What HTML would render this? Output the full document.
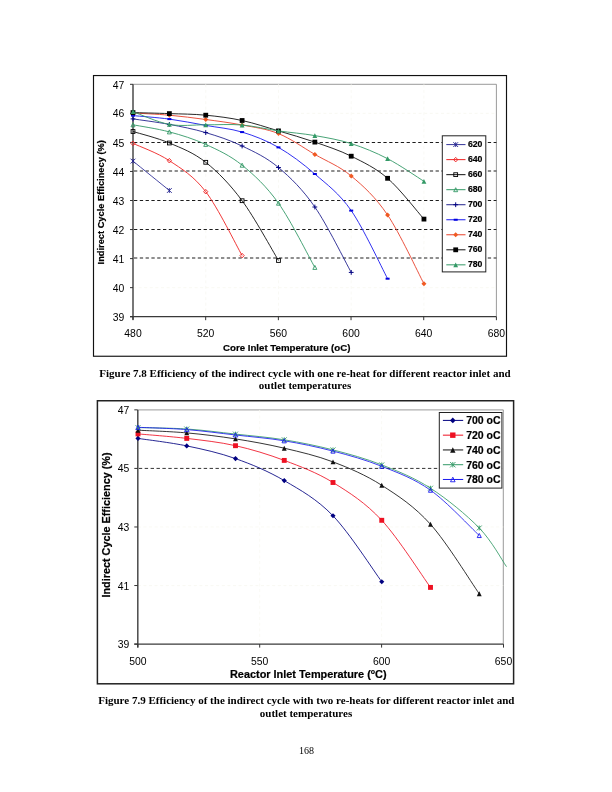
<!DOCTYPE html>
<html><head><meta charset="utf-8"><title>Page 168</title>
<style>html,body{margin:0;padding:0;background:#fff}body{width:612px;height:792px;position:relative;overflow:hidden}</style></head>
<body>
<svg width="612" height="792" viewBox="0 0 612 792" style="position:absolute;left:0;top:0">
<rect width="612" height="792" fill="#fff"/>
<rect x="93.50" y="75.55" width="413.00" height="280.70" fill="#fff" stroke="#111" stroke-width="1.15"/>
<path d="M133.0 84.3 H496.4 V316.7" fill="none" stroke="#808080" stroke-width="0.8"/>
<line x1="133.0" y1="113.35" x2="496.4" y2="113.35" stroke="#f7f7f0" stroke-width="0.8" stroke-dasharray="3 2.6"/>
<line x1="133.0" y1="287.65" x2="496.4" y2="287.65" stroke="#f7f7f0" stroke-width="0.8" stroke-dasharray="3 2.6"/>
<line x1="205.74" y1="84.3" x2="205.74" y2="316.7" stroke="#f8f8f2" stroke-width="0.8" stroke-dasharray="3 2.6"/>
<line x1="278.48" y1="84.3" x2="278.48" y2="316.7" stroke="#f8f8f2" stroke-width="0.8" stroke-dasharray="3 2.6"/>
<line x1="351.22" y1="84.3" x2="351.22" y2="316.7" stroke="#f8f8f2" stroke-width="0.8" stroke-dasharray="3 2.6"/>
<line x1="423.96" y1="84.3" x2="423.96" y2="316.7" stroke="#f8f8f2" stroke-width="0.8" stroke-dasharray="3 2.6"/>
<line x1="134.0" y1="142.50" x2="496.4" y2="142.50" stroke="#111" stroke-width="0.95" stroke-dasharray="3.3 2.5"/>
<line x1="134.0" y1="171.00" x2="496.4" y2="171.00" stroke="#111" stroke-width="0.95" stroke-dasharray="3.3 2.5"/>
<line x1="134.0" y1="200.50" x2="496.4" y2="200.50" stroke="#111" stroke-width="0.95" stroke-dasharray="3.3 2.5"/>
<line x1="134.0" y1="229.50" x2="496.4" y2="229.50" stroke="#111" stroke-width="0.95" stroke-dasharray="3.3 2.5"/>
<line x1="134.0" y1="258.00" x2="496.4" y2="258.00" stroke="#111" stroke-width="0.95" stroke-dasharray="3.3 2.5"/>
<line x1="133.0" y1="84.3" x2="133.0" y2="319.7" stroke="#4a4a4a" stroke-width="1.5"/>
<line x1="130.0" y1="316.7" x2="496.4" y2="316.7" stroke="#3a3a3a" stroke-width="1.2"/>
<line x1="130.0" y1="316.70" x2="133.0" y2="316.70" stroke="#333" stroke-width="1"/>
<text x="124.2" y="321.30" text-anchor="end" font-size="10.4" font-family="Liberation Sans, Arial, sans-serif" fill="#000">39</text>
<line x1="130.0" y1="287.65" x2="133.0" y2="287.65" stroke="#333" stroke-width="1"/>
<text x="124.2" y="292.25" text-anchor="end" font-size="10.4" font-family="Liberation Sans, Arial, sans-serif" fill="#000">40</text>
<line x1="130.0" y1="258.60" x2="133.0" y2="258.60" stroke="#333" stroke-width="1"/>
<text x="124.2" y="263.20" text-anchor="end" font-size="10.4" font-family="Liberation Sans, Arial, sans-serif" fill="#000">41</text>
<line x1="130.0" y1="229.55" x2="133.0" y2="229.55" stroke="#333" stroke-width="1"/>
<text x="124.2" y="234.15" text-anchor="end" font-size="10.4" font-family="Liberation Sans, Arial, sans-serif" fill="#000">42</text>
<line x1="130.0" y1="200.50" x2="133.0" y2="200.50" stroke="#333" stroke-width="1"/>
<text x="124.2" y="205.10" text-anchor="end" font-size="10.4" font-family="Liberation Sans, Arial, sans-serif" fill="#000">43</text>
<line x1="130.0" y1="171.45" x2="133.0" y2="171.45" stroke="#333" stroke-width="1"/>
<text x="124.2" y="176.05" text-anchor="end" font-size="10.4" font-family="Liberation Sans, Arial, sans-serif" fill="#000">44</text>
<line x1="130.0" y1="142.40" x2="133.0" y2="142.40" stroke="#333" stroke-width="1"/>
<text x="124.2" y="147.00" text-anchor="end" font-size="10.4" font-family="Liberation Sans, Arial, sans-serif" fill="#000">45</text>
<line x1="130.0" y1="113.35" x2="133.0" y2="113.35" stroke="#333" stroke-width="1"/>
<text x="124.2" y="116.85" text-anchor="end" font-size="10.4" font-family="Liberation Sans, Arial, sans-serif" fill="#000">46</text>
<line x1="130.0" y1="84.30" x2="133.0" y2="84.30" stroke="#333" stroke-width="1"/>
<text x="124.2" y="88.90" text-anchor="end" font-size="10.4" font-family="Liberation Sans, Arial, sans-serif" fill="#000">47</text>
<line x1="133.00" y1="316.7" x2="133.00" y2="320.2" stroke="#333" stroke-width="1"/>
<text x="133.00" y="337.4" text-anchor="middle" font-size="10.4" font-family="Liberation Sans, Arial, sans-serif" fill="#000">480</text>
<line x1="205.68" y1="316.7" x2="205.68" y2="320.2" stroke="#333" stroke-width="1"/>
<text x="205.68" y="337.4" text-anchor="middle" font-size="10.4" font-family="Liberation Sans, Arial, sans-serif" fill="#000">520</text>
<line x1="278.36" y1="316.7" x2="278.36" y2="320.2" stroke="#333" stroke-width="1"/>
<text x="278.36" y="337.4" text-anchor="middle" font-size="10.4" font-family="Liberation Sans, Arial, sans-serif" fill="#000">560</text>
<line x1="351.04" y1="316.7" x2="351.04" y2="320.2" stroke="#333" stroke-width="1"/>
<text x="351.04" y="337.4" text-anchor="middle" font-size="10.4" font-family="Liberation Sans, Arial, sans-serif" fill="#000">600</text>
<line x1="423.72" y1="316.7" x2="423.72" y2="320.2" stroke="#333" stroke-width="1"/>
<text x="423.72" y="337.4" text-anchor="middle" font-size="10.4" font-family="Liberation Sans, Arial, sans-serif" fill="#000">640</text>
<line x1="496.40" y1="316.7" x2="496.40" y2="320.2" stroke="#333" stroke-width="1"/>
<text x="496.40" y="337.4" text-anchor="middle" font-size="10.4" font-family="Liberation Sans, Arial, sans-serif" fill="#000">680</text>
<text x="286.7" y="351.4" text-anchor="middle" font-size="9.5" font-weight="bold" stroke="#000" stroke-width="0.2" textLength="127.4" lengthAdjust="spacingAndGlyphs" font-family="Liberation Sans, Arial, sans-serif" fill="#000">Core Inlet Temperature (oC)</text>
<text transform="translate(104.3 202.3) rotate(-90)" text-anchor="middle" font-size="9.3" font-weight="bold" stroke="#000" stroke-width="0.2" textLength="124.2" lengthAdjust="spacingAndGlyphs" font-family="Liberation Sans, Arial, sans-serif" fill="#000">Indirect Cycle Efficinecy (%)</text>
<path d="M133.00 161.10 C139.06 166.00 163.31 185.60 169.37 190.50" fill="none" stroke="#333399" stroke-width="0.9"/>
<path d="M130.60 158.70 L135.40 163.50 M130.60 163.50 L135.40 158.70 M133.00 158.70 L133.00 163.50" stroke="#23238e" stroke-width="0.9" fill="none"/>
<path d="M166.97 188.10 L171.77 192.90 M166.97 192.90 L171.77 188.10 M169.37 188.10 L169.37 192.90" stroke="#23238e" stroke-width="0.9" fill="none"/>
<path d="M133.00 143.40 C139.06 146.28 157.25 152.65 169.37 160.70 C181.49 168.75 193.62 175.88 205.74 191.70 C217.86 207.52 236.05 244.95 242.11 255.60" fill="none" stroke="#ee2222" stroke-width="0.9"/>
<path d="M133.00 141.10 L135.10 143.40 L133.00 145.70 L130.90 143.40Z" fill="none" stroke="#ee2222" stroke-width="0.9"/>
<path d="M169.37 158.40 L171.47 160.70 L169.37 163.00 L167.27 160.70Z" fill="none" stroke="#ee2222" stroke-width="0.9"/>
<path d="M205.74 189.40 L207.84 191.70 L205.74 194.00 L203.64 191.70Z" fill="none" stroke="#ee2222" stroke-width="0.9"/>
<path d="M242.11 253.30 L244.21 255.60 L242.11 257.90 L240.01 255.60Z" fill="none" stroke="#ee2222" stroke-width="0.9"/>
<path d="M133.00 131.50 C139.06 133.42 157.25 137.87 169.37 143.00 C181.49 148.13 193.62 152.68 205.74 162.30 C217.86 171.92 229.99 184.33 242.11 200.70 C254.23 217.07 272.42 250.53 278.48 260.50" fill="none" stroke="#111111" stroke-width="0.9"/>
<rect x="131.10" y="129.60" width="3.80" height="3.80" fill="none" stroke="#000" stroke-width="0.9"/>
<rect x="167.47" y="141.10" width="3.80" height="3.80" fill="none" stroke="#000" stroke-width="0.9"/>
<rect x="203.84" y="160.40" width="3.80" height="3.80" fill="none" stroke="#000" stroke-width="0.9"/>
<rect x="240.21" y="198.80" width="3.80" height="3.80" fill="none" stroke="#000" stroke-width="0.9"/>
<rect x="276.58" y="258.60" width="3.80" height="3.80" fill="none" stroke="#000" stroke-width="0.9"/>
<path d="M133.00 124.80 C139.06 125.98 157.25 128.63 169.37 131.90 C181.49 135.17 193.62 138.85 205.74 144.40 C217.86 149.95 229.99 155.40 242.11 165.20 C254.23 175.00 266.36 186.17 278.48 203.20 C290.60 220.23 308.79 256.70 314.85 267.40" fill="none" stroke="#339966" stroke-width="0.9"/>
<path d="M133.00 122.80 L135.00 126.80 L131.00 126.80Z" fill="none" stroke="#339966" stroke-width="0.9"/>
<path d="M169.37 129.90 L171.37 133.90 L167.37 133.90Z" fill="none" stroke="#339966" stroke-width="0.9"/>
<path d="M205.74 142.40 L207.74 146.40 L203.74 146.40Z" fill="none" stroke="#339966" stroke-width="0.9"/>
<path d="M242.11 163.20 L244.11 167.20 L240.11 167.20Z" fill="none" stroke="#339966" stroke-width="0.9"/>
<path d="M278.48 201.20 L280.48 205.20 L276.48 205.20Z" fill="none" stroke="#339966" stroke-width="0.9"/>
<path d="M314.85 265.40 L316.85 269.40 L312.85 269.40Z" fill="none" stroke="#339966" stroke-width="0.9"/>
<path d="M133.00 118.90 C139.06 119.82 157.25 122.12 169.37 124.40 C181.49 126.68 193.62 129.00 205.74 132.60 C217.86 136.20 229.99 140.18 242.11 146.00 C254.23 151.82 266.36 157.33 278.48 167.50 C290.60 177.67 302.73 189.52 314.85 207.00 C326.97 224.48 345.16 261.50 351.22 272.40" fill="none" stroke="#23238e" stroke-width="0.9"/>
<path d="M130.60 118.90 L135.40 118.90 M133.00 116.50 L133.00 121.30" stroke="#000080" stroke-width="1" fill="none"/>
<path d="M166.97 124.40 L171.77 124.40 M169.37 122.00 L169.37 126.80" stroke="#000080" stroke-width="1" fill="none"/>
<path d="M203.34 132.60 L208.14 132.60 M205.74 130.20 L205.74 135.00" stroke="#000080" stroke-width="1" fill="none"/>
<path d="M239.71 146.00 L244.51 146.00 M242.11 143.60 L242.11 148.40" stroke="#000080" stroke-width="1" fill="none"/>
<path d="M276.08 167.50 L280.88 167.50 M278.48 165.10 L278.48 169.90" stroke="#000080" stroke-width="1" fill="none"/>
<path d="M312.45 207.00 L317.25 207.00 M314.85 204.60 L314.85 209.40" stroke="#000080" stroke-width="1" fill="none"/>
<path d="M348.82 272.40 L353.62 272.40 M351.22 270.00 L351.22 274.80" stroke="#000080" stroke-width="1" fill="none"/>
<path d="M133.00 115.60 C139.06 116.18 157.25 117.47 169.37 119.10 C181.49 120.73 193.62 123.23 205.74 125.40 C217.86 127.57 229.99 128.43 242.11 132.10 C254.23 135.77 266.36 140.42 278.48 147.40 C290.60 154.38 302.73 163.47 314.85 174.00 C326.97 184.53 339.10 193.15 351.22 210.60 C363.34 228.05 381.53 267.35 387.59 278.70" fill="none" stroke="#1a1aee" stroke-width="0.9"/>
<rect x="131.00" y="114.60" width="4.00" height="2.00" fill="#0000e0"/>
<rect x="167.37" y="118.10" width="4.00" height="2.00" fill="#0000e0"/>
<rect x="203.74" y="124.40" width="4.00" height="2.00" fill="#0000e0"/>
<rect x="240.11" y="131.10" width="4.00" height="2.00" fill="#0000e0"/>
<rect x="276.48" y="146.40" width="4.00" height="2.00" fill="#0000e0"/>
<rect x="312.85" y="173.00" width="4.00" height="2.00" fill="#0000e0"/>
<rect x="349.22" y="209.60" width="4.00" height="2.00" fill="#0000e0"/>
<rect x="385.59" y="277.70" width="4.00" height="2.00" fill="#0000e0"/>
<path d="M133.00 113.00 C139.06 113.37 157.25 114.12 169.37 115.20 C181.49 116.28 193.62 117.87 205.74 119.50 C217.86 121.13 229.99 122.65 242.11 125.00 C254.23 127.35 266.36 128.70 278.48 133.60 C290.60 138.50 302.73 147.33 314.85 154.40 C326.97 161.47 339.10 165.90 351.22 176.00 C363.34 186.10 375.47 197.03 387.59 215.00 C399.71 232.97 417.90 272.33 423.96 283.80" fill="none" stroke="#e8402a" stroke-width="0.9"/>
<path d="M133.00 110.50 L135.50 113.00 L133.00 115.50 L130.50 113.00Z" fill="#f05a22"/>
<path d="M169.37 112.70 L171.87 115.20 L169.37 117.70 L166.87 115.20Z" fill="#f05a22"/>
<path d="M205.74 117.00 L208.24 119.50 L205.74 122.00 L203.24 119.50Z" fill="#f05a22"/>
<path d="M242.11 122.50 L244.61 125.00 L242.11 127.50 L239.61 125.00Z" fill="#f05a22"/>
<path d="M278.48 131.10 L280.98 133.60 L278.48 136.10 L275.98 133.60Z" fill="#f05a22"/>
<path d="M314.85 151.90 L317.35 154.40 L314.85 156.90 L312.35 154.40Z" fill="#f05a22"/>
<path d="M351.22 173.50 L353.72 176.00 L351.22 178.50 L348.72 176.00Z" fill="#f05a22"/>
<path d="M387.59 212.50 L390.09 215.00 L387.59 217.50 L385.09 215.00Z" fill="#f05a22"/>
<path d="M423.96 281.30 L426.46 283.80 L423.96 286.30 L421.46 283.80Z" fill="#f05a22"/>
<path d="M133.00 112.60 C139.06 112.77 157.25 113.17 169.37 113.60 C181.49 114.03 193.62 114.05 205.74 115.20 C217.86 116.35 229.99 117.88 242.11 120.50 C254.23 123.12 266.36 127.30 278.48 130.90 C290.60 134.50 302.73 137.88 314.85 142.10 C326.97 146.32 339.10 150.17 351.22 156.20 C363.34 162.23 375.47 167.82 387.59 178.30 C399.71 188.78 417.90 212.30 423.96 219.10" fill="none" stroke="#111111" stroke-width="0.9"/>
<rect x="130.60" y="110.20" width="4.80" height="4.80" fill="#000"/>
<rect x="166.97" y="111.20" width="4.80" height="4.80" fill="#000"/>
<rect x="203.34" y="112.80" width="4.80" height="4.80" fill="#000"/>
<rect x="239.71" y="118.10" width="4.80" height="4.80" fill="#000"/>
<rect x="276.08" y="128.50" width="4.80" height="4.80" fill="#000"/>
<rect x="312.45" y="139.70" width="4.80" height="4.80" fill="#000"/>
<rect x="348.82" y="153.80" width="4.80" height="4.80" fill="#000"/>
<rect x="385.19" y="175.90" width="4.80" height="4.80" fill="#000"/>
<rect x="421.56" y="216.70" width="4.80" height="4.80" fill="#000"/>
<path d="M133.00 111.70 C139.06 113.82 157.25 122.22 169.37 124.40 C181.49 126.58 193.62 124.70 205.74 124.80 C217.86 124.90 229.99 123.98 242.11 125.00 C254.23 126.02 266.36 129.13 278.48 130.90 C290.60 132.67 302.73 133.48 314.85 135.60 C326.97 137.72 339.10 139.75 351.22 143.60 C363.34 147.45 375.47 152.42 387.59 158.70 C399.71 164.98 417.90 177.53 423.96 181.30" fill="none" stroke="#339966" stroke-width="0.9"/>
<path d="M133.00 109.30 L135.40 114.10 L130.60 114.10Z" fill="#339966"/>
<path d="M169.37 122.00 L171.77 126.80 L166.97 126.80Z" fill="#339966"/>
<path d="M205.74 122.40 L208.14 127.20 L203.34 127.20Z" fill="#339966"/>
<path d="M242.11 122.60 L244.51 127.40 L239.71 127.40Z" fill="#339966"/>
<path d="M278.48 128.50 L280.88 133.30 L276.08 133.30Z" fill="#339966"/>
<path d="M314.85 133.20 L317.25 138.00 L312.45 138.00Z" fill="#339966"/>
<path d="M351.22 141.20 L353.62 146.00 L348.82 146.00Z" fill="#339966"/>
<path d="M387.59 156.30 L389.99 161.10 L385.19 161.10Z" fill="#339966"/>
<path d="M423.96 178.90 L426.36 183.70 L421.56 183.70Z" fill="#339966"/>
<rect x="442.3" y="135.8" width="43.5" height="136.1" fill="#fff" stroke="#222" stroke-width="1"/>
<line x1="446.3" y1="144.60" x2="465.5" y2="144.60" stroke="#333399" stroke-width="1"/>
<path d="M453.30 142.20 L458.10 147.00 M453.30 147.00 L458.10 142.20 M455.70 142.20 L455.70 147.00" stroke="#23238e" stroke-width="0.9" fill="none"/>
<text x="467.9" y="146.90" font-size="9.2" font-weight="bold" stroke="#000" stroke-width="0.2" textLength="14.5" lengthAdjust="spacingAndGlyphs" font-family="Liberation Sans, Arial, sans-serif" fill="#000">620</text>
<line x1="446.3" y1="159.63" x2="465.5" y2="159.63" stroke="#ee2222" stroke-width="1"/>
<path d="M455.70 157.33 L457.80 159.63 L455.70 161.93 L453.60 159.63Z" fill="none" stroke="#ee2222" stroke-width="0.9"/>
<text x="467.9" y="161.93" font-size="9.2" font-weight="bold" stroke="#000" stroke-width="0.2" textLength="14.5" lengthAdjust="spacingAndGlyphs" font-family="Liberation Sans, Arial, sans-serif" fill="#000">640</text>
<line x1="446.3" y1="174.66" x2="465.5" y2="174.66" stroke="#111111" stroke-width="1"/>
<rect x="453.80" y="172.76" width="3.80" height="3.80" fill="none" stroke="#000" stroke-width="0.9"/>
<text x="467.9" y="176.96" font-size="9.2" font-weight="bold" stroke="#000" stroke-width="0.2" textLength="14.5" lengthAdjust="spacingAndGlyphs" font-family="Liberation Sans, Arial, sans-serif" fill="#000">660</text>
<line x1="446.3" y1="189.69" x2="465.5" y2="189.69" stroke="#339966" stroke-width="1"/>
<path d="M455.70 187.69 L457.70 191.69 L453.70 191.69Z" fill="none" stroke="#339966" stroke-width="0.9"/>
<text x="467.9" y="191.99" font-size="9.2" font-weight="bold" stroke="#000" stroke-width="0.2" textLength="14.5" lengthAdjust="spacingAndGlyphs" font-family="Liberation Sans, Arial, sans-serif" fill="#000">680</text>
<line x1="446.3" y1="204.72" x2="465.5" y2="204.72" stroke="#23238e" stroke-width="1"/>
<path d="M453.30 204.72 L458.10 204.72 M455.70 202.32 L455.70 207.12" stroke="#000080" stroke-width="1" fill="none"/>
<text x="467.9" y="207.02" font-size="9.2" font-weight="bold" stroke="#000" stroke-width="0.2" textLength="14.5" lengthAdjust="spacingAndGlyphs" font-family="Liberation Sans, Arial, sans-serif" fill="#000">700</text>
<line x1="446.3" y1="219.75" x2="465.5" y2="219.75" stroke="#1a1aee" stroke-width="1"/>
<rect x="453.70" y="218.75" width="4.00" height="2.00" fill="#0000e0"/>
<text x="467.9" y="222.05" font-size="9.2" font-weight="bold" stroke="#000" stroke-width="0.2" textLength="14.5" lengthAdjust="spacingAndGlyphs" font-family="Liberation Sans, Arial, sans-serif" fill="#000">720</text>
<line x1="446.3" y1="234.78" x2="465.5" y2="234.78" stroke="#e8402a" stroke-width="1"/>
<path d="M455.70 232.28 L458.20 234.78 L455.70 237.28 L453.20 234.78Z" fill="#f05a22"/>
<text x="467.9" y="237.08" font-size="9.2" font-weight="bold" stroke="#000" stroke-width="0.2" textLength="14.5" lengthAdjust="spacingAndGlyphs" font-family="Liberation Sans, Arial, sans-serif" fill="#000">740</text>
<line x1="446.3" y1="249.81" x2="465.5" y2="249.81" stroke="#111111" stroke-width="1"/>
<rect x="453.30" y="247.41" width="4.80" height="4.80" fill="#000"/>
<text x="467.9" y="252.11" font-size="9.2" font-weight="bold" stroke="#000" stroke-width="0.2" textLength="14.5" lengthAdjust="spacingAndGlyphs" font-family="Liberation Sans, Arial, sans-serif" fill="#000">760</text>
<line x1="446.3" y1="264.84" x2="465.5" y2="264.84" stroke="#339966" stroke-width="1"/>
<path d="M455.70 262.44 L458.10 267.24 L453.30 267.24Z" fill="#339966"/>
<text x="467.9" y="267.14" font-size="9.2" font-weight="bold" stroke="#000" stroke-width="0.2" textLength="14.5" lengthAdjust="spacingAndGlyphs" font-family="Liberation Sans, Arial, sans-serif" fill="#000">780</text>
<rect x="97.40" y="400.75" width="416.20" height="283.05" fill="#fff" stroke="#222" stroke-width="1.5"/>
<path d="M137.8 409.9 H503.3 V644.1" fill="none" stroke="#808080" stroke-width="0.8"/>
<line x1="137.8" y1="526.98" x2="503.3" y2="526.98" stroke="#f7f7f0" stroke-width="0.8" stroke-dasharray="3 2.6"/>
<line x1="137.8" y1="585.54" x2="503.3" y2="585.54" stroke="#f7f7f0" stroke-width="0.8" stroke-dasharray="3 2.6"/>
<line x1="259.70" y1="409.9" x2="259.70" y2="644.1" stroke="#f8f8f2" stroke-width="0.8" stroke-dasharray="3 2.6"/>
<line x1="381.60" y1="409.9" x2="381.60" y2="644.1" stroke="#f8f8f2" stroke-width="0.8" stroke-dasharray="3 2.6"/>
<line x1="138.8" y1="468.41" x2="503.3" y2="468.41" stroke="#111" stroke-width="0.85" stroke-dasharray="3.4 2.5"/>
<line x1="137.8" y1="409.9" x2="137.8" y2="647.6" stroke="#4a4a4a" stroke-width="1.5"/>
<line x1="134.3" y1="644.1" x2="503.3" y2="644.1" stroke="#3a3a3a" stroke-width="1.2"/>
<line x1="134.3" y1="644.10" x2="137.8" y2="644.10" stroke="#333" stroke-width="1"/>
<text x="129.3" y="648.10" text-anchor="end" font-size="10.4" font-family="Liberation Sans, Arial, sans-serif" fill="#000">39</text>
<line x1="134.3" y1="585.54" x2="137.8" y2="585.54" stroke="#333" stroke-width="1"/>
<text x="129.3" y="589.54" text-anchor="end" font-size="10.4" font-family="Liberation Sans, Arial, sans-serif" fill="#000">41</text>
<line x1="134.3" y1="526.98" x2="137.8" y2="526.98" stroke="#333" stroke-width="1"/>
<text x="129.3" y="530.98" text-anchor="end" font-size="10.4" font-family="Liberation Sans, Arial, sans-serif" fill="#000">43</text>
<line x1="134.3" y1="468.41" x2="137.8" y2="468.41" stroke="#333" stroke-width="1"/>
<text x="129.3" y="472.41" text-anchor="end" font-size="10.4" font-family="Liberation Sans, Arial, sans-serif" fill="#000">45</text>
<line x1="134.3" y1="409.85" x2="137.8" y2="409.85" stroke="#333" stroke-width="1"/>
<text x="129.3" y="413.85" text-anchor="end" font-size="10.4" font-family="Liberation Sans, Arial, sans-serif" fill="#000">47</text>
<line x1="137.80" y1="644.1" x2="137.80" y2="647.6" stroke="#333" stroke-width="1"/>
<text x="137.80" y="665.2" text-anchor="middle" font-size="10.4" font-family="Liberation Sans, Arial, sans-serif" fill="#000">500</text>
<line x1="259.70" y1="644.1" x2="259.70" y2="647.6" stroke="#333" stroke-width="1"/>
<text x="259.70" y="665.2" text-anchor="middle" font-size="10.4" font-family="Liberation Sans, Arial, sans-serif" fill="#000">550</text>
<line x1="381.60" y1="644.1" x2="381.60" y2="647.6" stroke="#333" stroke-width="1"/>
<text x="381.60" y="665.2" text-anchor="middle" font-size="10.4" font-family="Liberation Sans, Arial, sans-serif" fill="#000">600</text>
<line x1="503.50" y1="644.1" x2="503.50" y2="647.6" stroke="#333" stroke-width="1"/>
<text x="503.50" y="665.2" text-anchor="middle" font-size="10.4" font-family="Liberation Sans, Arial, sans-serif" fill="#000">650</text>
<text x="308.3" y="677.8" text-anchor="middle" font-size="10.9" font-weight="bold" stroke="#000" stroke-width="0.2" font-family="Liberation Sans, Arial, sans-serif" fill="#000">Reactor Inlet Temperature (<tspan font-size="7" dy="-3.5">o</tspan><tspan dy="3.5">C)</tspan></text>
<text transform="translate(109.6 525) rotate(-90)" text-anchor="middle" font-size="10.85" font-weight="bold" stroke="#000" stroke-width="0.2" font-family="Liberation Sans, Arial, sans-serif" fill="#000">Indirect Cycle Efficiency (%)</text>
<path d="M138.00 438.40 C146.12 439.65 170.50 442.53 186.75 445.90 C203.00 449.27 219.25 452.82 235.50 458.60 C251.75 464.38 268.00 471.07 284.25 480.60 C300.50 490.13 316.75 498.95 333.00 515.80 C349.25 532.65 373.62 570.72 381.75 581.70" fill="none" stroke="#000080" stroke-width="0.85"/>
<path d="M138.00 433.90 C146.12 434.65 170.50 436.43 186.75 438.40 C203.00 440.37 219.25 442.03 235.50 445.70 C251.75 449.37 268.00 454.27 284.25 460.40 C300.50 466.53 316.75 472.52 333.00 482.50 C349.25 492.48 365.50 502.82 381.75 520.30 C398.00 537.78 422.38 576.22 430.50 587.40" fill="none" stroke="#ee1122" stroke-width="0.85"/>
<path d="M138.00 430.20 C146.12 430.65 170.50 431.45 186.75 432.90 C203.00 434.35 219.25 436.35 235.50 438.90 C251.75 441.45 268.00 444.37 284.25 448.20 C300.50 452.03 316.75 455.72 333.00 461.90 C349.25 468.08 365.50 474.90 381.75 485.30 C398.00 495.70 414.25 506.22 430.50 524.30 C446.75 542.38 471.12 582.22 479.25 593.80" fill="none" stroke="#111111" stroke-width="0.85"/>
<path d="M138.00 427.60 C146.12 427.83 170.50 427.92 186.75 429.00 C203.00 430.08 219.25 432.30 235.50 434.10 C251.75 435.90 268.00 437.17 284.25 439.80 C300.50 442.43 316.75 445.72 333.00 449.90 C349.25 454.08 365.50 458.52 381.75 464.90 C398.00 471.28 414.25 477.68 430.50 488.20 C446.75 498.72 466.58 514.92 479.25 528.00 C491.92 541.08 501.96 560.25 506.50 566.70" fill="none" stroke="#339966" stroke-width="0.85"/>
<path d="M138.00 427.30 C146.12 427.68 170.50 428.32 186.75 429.60 C203.00 430.88 219.25 433.13 235.50 435.00 C251.75 436.87 268.00 438.12 284.25 440.80 C300.50 443.48 316.75 446.85 333.00 451.10 C349.25 455.35 365.50 459.78 381.75 466.30 C398.00 472.82 414.25 478.67 430.50 490.20 C446.75 501.73 471.12 527.95 479.25 535.50" fill="none" stroke="#1a1aee" stroke-width="0.85"/>
<path d="M138.00 435.85 L140.55 438.40 L138.00 440.95 L135.45 438.40Z" fill="#000080"/>
<path d="M186.75 443.35 L189.30 445.90 L186.75 448.45 L184.20 445.90Z" fill="#000080"/>
<path d="M235.50 456.05 L238.05 458.60 L235.50 461.15 L232.95 458.60Z" fill="#000080"/>
<path d="M284.25 478.05 L286.80 480.60 L284.25 483.15 L281.70 480.60Z" fill="#000080"/>
<path d="M333.00 513.25 L335.55 515.80 L333.00 518.35 L330.45 515.80Z" fill="#000080"/>
<path d="M381.75 579.15 L384.30 581.70 L381.75 584.25 L379.20 581.70Z" fill="#000080"/>
<rect x="135.55" y="431.45" width="4.90" height="4.90" fill="#ee1122"/>
<rect x="184.30" y="435.95" width="4.90" height="4.90" fill="#ee1122"/>
<rect x="233.05" y="443.25" width="4.90" height="4.90" fill="#ee1122"/>
<rect x="281.80" y="457.95" width="4.90" height="4.90" fill="#ee1122"/>
<rect x="330.55" y="480.05" width="4.90" height="4.90" fill="#ee1122"/>
<rect x="379.30" y="517.85" width="4.90" height="4.90" fill="#ee1122"/>
<rect x="428.05" y="584.95" width="4.90" height="4.90" fill="#ee1122"/>
<path d="M138.00 427.75 L140.45 432.65 L135.55 432.65Z" fill="#111111"/>
<path d="M186.75 430.45 L189.20 435.35 L184.30 435.35Z" fill="#111111"/>
<path d="M235.50 436.45 L237.95 441.35 L233.05 441.35Z" fill="#111111"/>
<path d="M284.25 445.75 L286.70 450.65 L281.80 450.65Z" fill="#111111"/>
<path d="M333.00 459.45 L335.45 464.35 L330.55 464.35Z" fill="#111111"/>
<path d="M381.75 482.85 L384.20 487.75 L379.30 487.75Z" fill="#111111"/>
<path d="M430.50 521.85 L432.95 526.75 L428.05 526.75Z" fill="#111111"/>
<path d="M479.25 591.35 L481.70 596.25 L476.80 596.25Z" fill="#111111"/>
<path d="M135.55 425.15 L140.45 430.05 M135.55 430.05 L140.45 425.15 M138.00 425.15 L138.00 430.05" stroke="#339966" stroke-width="0.9" fill="none"/>
<path d="M184.30 426.55 L189.20 431.45 M184.30 431.45 L189.20 426.55 M186.75 426.55 L186.75 431.45" stroke="#339966" stroke-width="0.9" fill="none"/>
<path d="M233.05 431.65 L237.95 436.55 M233.05 436.55 L237.95 431.65 M235.50 431.65 L235.50 436.55" stroke="#339966" stroke-width="0.9" fill="none"/>
<path d="M281.80 437.35 L286.70 442.25 M281.80 442.25 L286.70 437.35 M284.25 437.35 L284.25 442.25" stroke="#339966" stroke-width="0.9" fill="none"/>
<path d="M330.55 447.45 L335.45 452.35 M330.55 452.35 L335.45 447.45 M333.00 447.45 L333.00 452.35" stroke="#339966" stroke-width="0.9" fill="none"/>
<path d="M379.30 462.45 L384.20 467.35 M379.30 467.35 L384.20 462.45 M381.75 462.45 L381.75 467.35" stroke="#339966" stroke-width="0.9" fill="none"/>
<path d="M428.05 485.75 L432.95 490.65 M428.05 490.65 L432.95 485.75 M430.50 485.75 L430.50 490.65" stroke="#339966" stroke-width="0.9" fill="none"/>
<path d="M476.80 525.55 L481.70 530.45 M476.80 530.45 L481.70 525.55 M479.25 525.55 L479.25 530.45" stroke="#339966" stroke-width="0.9" fill="none"/>
<path d="M138.00 425.25 L140.05 429.35 L135.95 429.35Z" fill="none" stroke="#1a1aee" stroke-width="0.9"/>
<path d="M186.75 427.55 L188.80 431.65 L184.70 431.65Z" fill="none" stroke="#1a1aee" stroke-width="0.9"/>
<path d="M235.50 432.95 L237.55 437.05 L233.45 437.05Z" fill="none" stroke="#1a1aee" stroke-width="0.9"/>
<path d="M284.25 438.75 L286.30 442.85 L282.20 442.85Z" fill="none" stroke="#1a1aee" stroke-width="0.9"/>
<path d="M333.00 449.05 L335.05 453.15 L330.95 453.15Z" fill="none" stroke="#1a1aee" stroke-width="0.9"/>
<path d="M381.75 464.25 L383.80 468.35 L379.70 468.35Z" fill="none" stroke="#1a1aee" stroke-width="0.9"/>
<path d="M430.50 488.15 L432.55 492.25 L428.45 492.25Z" fill="none" stroke="#1a1aee" stroke-width="0.9"/>
<path d="M479.25 533.45 L481.30 537.55 L477.20 537.55Z" fill="none" stroke="#1a1aee" stroke-width="0.9"/>
<rect x="439.3" y="412.5" width="62.6" height="75.6" fill="#fff" stroke="#222" stroke-width="1"/>
<line x1="442.9" y1="420.40" x2="463.2" y2="420.40" stroke="#000080" stroke-width="1"/>
<path d="M452.80 417.60 L455.60 420.40 L452.80 423.20 L450.00 420.40Z" fill="#000080"/>
<text x="466.2" y="424.20" font-size="10.5" font-weight="bold" stroke="#000" stroke-width="0.2" font-family="Liberation Sans, Arial, sans-serif" fill="#000">700 oC</text>
<line x1="442.9" y1="435.17" x2="463.2" y2="435.17" stroke="#ee1122" stroke-width="1"/>
<rect x="450.10" y="432.47" width="5.40" height="5.40" fill="#ee1122"/>
<text x="466.2" y="438.97" font-size="10.5" font-weight="bold" stroke="#000" stroke-width="0.2" font-family="Liberation Sans, Arial, sans-serif" fill="#000">720 oC</text>
<line x1="442.9" y1="449.94" x2="463.2" y2="449.94" stroke="#111111" stroke-width="1"/>
<path d="M452.80 447.24 L455.50 452.64 L450.10 452.64Z" fill="#111111"/>
<text x="466.2" y="453.74" font-size="10.5" font-weight="bold" stroke="#000" stroke-width="0.2" font-family="Liberation Sans, Arial, sans-serif" fill="#000">740 oC</text>
<line x1="442.9" y1="464.71" x2="463.2" y2="464.71" stroke="#339966" stroke-width="1"/>
<path d="M450.10 462.01 L455.50 467.41 M450.10 467.41 L455.50 462.01 M452.80 462.01 L452.80 467.41" stroke="#339966" stroke-width="0.9" fill="none"/>
<text x="466.2" y="468.51" font-size="10.5" font-weight="bold" stroke="#000" stroke-width="0.2" font-family="Liberation Sans, Arial, sans-serif" fill="#000">760 oC</text>
<line x1="442.9" y1="479.48" x2="463.2" y2="479.48" stroke="#1a1aee" stroke-width="1"/>
<path d="M452.80 477.18 L455.10 481.78 L450.50 481.78Z" fill="none" stroke="#1a1aee" stroke-width="0.9"/>
<text x="466.2" y="483.28" font-size="10.5" font-weight="bold" stroke="#000" stroke-width="0.2" font-family="Liberation Sans, Arial, sans-serif" fill="#000">780 oC</text>
<text x="305" y="376.6" text-anchor="middle" font-size="11" font-weight="bold" font-family="Liberation Serif, Times New Roman, serif" fill="#000">Figure 7.8 Efficiency of the indirect cycle with one re-heat for different reactor inlet and</text>
<text x="305" y="389.2" text-anchor="middle" font-size="11" font-weight="bold" font-family="Liberation Serif, Times New Roman, serif" fill="#000">outlet temperatures</text>
<text x="306.3" y="704" text-anchor="middle" font-size="11" font-weight="bold" font-family="Liberation Serif, Times New Roman, serif" fill="#000">Figure 7.9 Efficiency of the indirect cycle with two re-heats for different reactor inlet and</text>
<text x="306" y="716.5" text-anchor="middle" font-size="11" font-weight="bold" font-family="Liberation Serif, Times New Roman, serif" fill="#000">outlet temperatures</text>
<text x="306.5" y="753.8" text-anchor="middle" font-size="10" font-family="Liberation Serif, Times New Roman, serif" fill="#000">168</text>
</svg>
</body></html>
